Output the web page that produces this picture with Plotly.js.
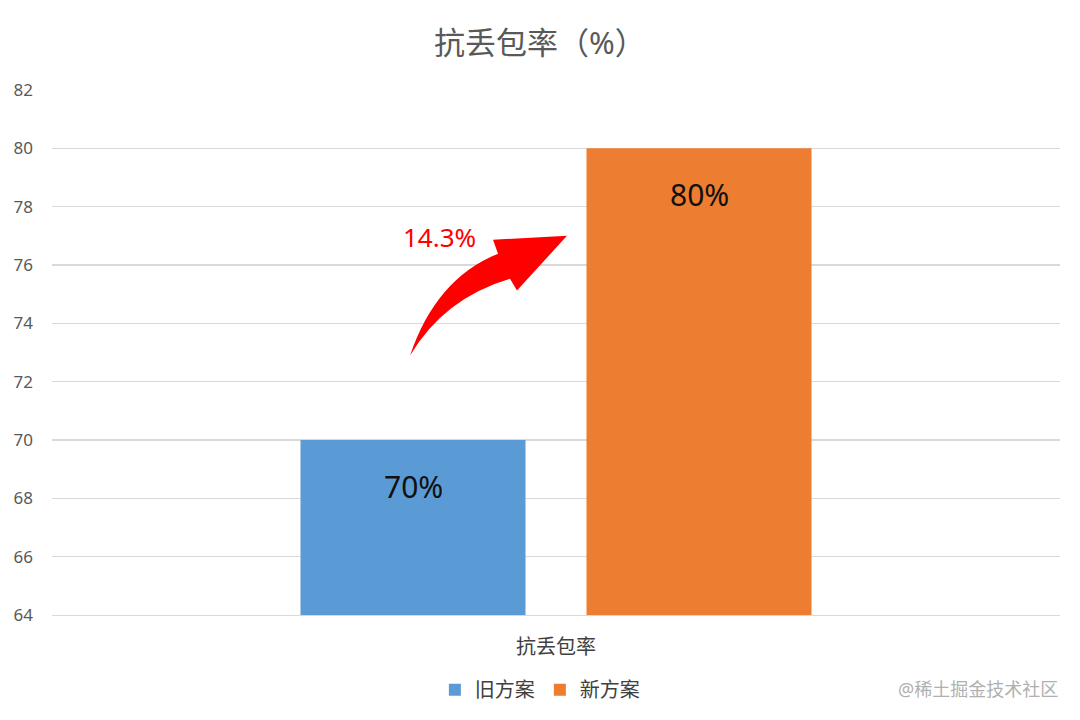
<!DOCTYPE html>
<html>
<head>
<meta charset="utf-8">
<script src="https://cdn.plot.ly/plotly-3.0.1.min.js"></script>
<style>html,body{margin:0;padding:0;background:#fff;}#chart{width:1080px;height:720px;}</style>
</head>
<body>
<div id="chart"></div>
<script>
const categories = ['抗丢包率'];
const seriesNames = ['旧方案', '新方案'];
const oldValues = [70];
const newValues = [80];
const seriesColors = ['#5b9bd5', '#ed7d31'];
const improvementLabel = '14.3%';
const yTicks = [64, 66, 68, 70, 72, 74, 76, 78, 80, 82];

const FONT = '"Noto Sans", "Noto Sans CJK SC", sans-serif';

const traces = [
  {type: 'bar', name: seriesNames[0], x: categories, y: oldValues, marker: {color: seriesColors[0]}, hoverinfo: 'none'},
  {type: 'bar', name: seriesNames[1], x: categories, y: newValues, marker: {color: seriesColors[1]}, hoverinfo: 'none'}
];

const valueAnn = (vals, shift) => vals.map((v, i) => ({
  x: categories[i], y: v - 1.58, xref: 'x', yref: 'y', xshift: shift, yanchor: 'middle',
  text: v + '%', showarrow: false, font: {size: 30, color: '#111', family: FONT}
}));

const layout = {
  width: 1080, height: 720,
  paper_bgcolor: '#fff', plot_bgcolor: '#fff',
  margin: {l: 52, r: 20, t: 90, b: 104},
  title: {text: '抗丢包率（%）', x: 0.5, xanchor: 'center', y: 0.94, yanchor: 'middle',
          font: {size: 31, color: '#595959', family: FONT}},
  barmode: 'group', bargap: 0.4325, bargroupgap: 0.2133,
  xaxis: {type: 'category', showgrid: false, zeroline: false, showline: true, linecolor: '#d9d9d9',
          ticks: '', tickfont: {size: 20, color: '#404040', family: FONT}, ticklabelstandoff: 14},
  yaxis: {range: [64, 82], tickvals: yTicks, ticktext: yTicks.map(String), showgrid: true, gridcolor: '#d9d9d9',
          gridwidth: 1.5, zeroline: false, showline: false, ticks: '', ticklabelstandoff: 18,
          tickfont: {size: 17, color: '#595959', family: FONT}},
  showlegend: true,
  legend: {orientation: 'h', x: 0.484, xanchor: 'center', y: -0.14, yanchor: 'middle',
           font: {size: 20, color: '#404040', family: FONT}, itemwidth: 30, traceorder: 'normal'},
  shapes: [{
    type: 'path', xref: 'paper', yref: 'paper',
    path: 'M0.3552,0.4943 Q0.3810,0.6407 0.4425,0.6882 L0.4375,0.7148 L0.5109,0.7224 L0.4613,0.6179 L0.4544,0.6407 Q0.3889,0.6036 0.3552,0.4943 Z',
    fillcolor: '#ff0000', line: {width: 0}
  }],
  annotations: [
    ...valueAnn(oldValues, -143),
    ...valueAnn(newValues, 143),
    {x: (439 - 52) / 1008, y: (616 - 237) / 526, xref: 'paper', yref: 'paper', xanchor: 'center', yanchor: 'middle',
     text: improvementLabel, showarrow: false, font: {size: 26, color: '#ff0000', family: FONT}},
    {x: 1.0, y: -0.14, xref: 'paper', yref: 'paper', xanchor: 'right', yanchor: 'middle',
     text: '@稀土掘金技术社区', showarrow: false, font: {size: 18, color: '#b0b0b0', family: FONT}}
  ]
};

Plotly.newPlot('chart', traces, layout, {staticPlot: true, displayModeBar: false});
</script>
</body>
</html>
